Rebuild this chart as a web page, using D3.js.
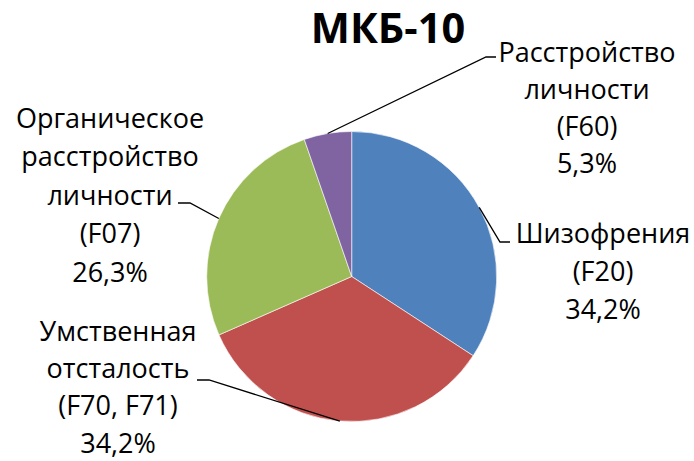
<!DOCTYPE html>
<html><head><meta charset="utf-8">
<script src="https://cdn.jsdelivr.net/npm/d3@7"></script>
<style>body{margin:0;background:#fff}svg{display:block}text{font-family:"Open Sans","Noto Sans",sans-serif;fill:#000}</style>
</head><body><svg id="c" width="694" height="461"></svg>
<script>
const title = "МКБ-10";
const categories = [
  ["Шизофрения", "(F20)"],
  ["Умственная", "отсталость", "(F70, F71)"],
  ["Органическое", "расстройство", "личности", "(F07)"],
  ["Расстройство", "личности", "(F60)"]
];
const values = [34.2, 34.2, 26.3, 5.3];
const valueLabels = ["34,2%", "34,2%", "26,3%", "5,3%"];
const colors = ["#4F81BD", "#C0504D", "#9BBB59", "#8064A2"];

// layout (not data)
const cx = 351.7, cy = 276.5, R = 145;
const labelLayout = [
  {x: 603, y0: 243, dy: 38, elbow: [500, 242], end: [510, 242]},
  {x: 118, y0: 341, dy: 37.2, elbow: [209, 380], end: [197, 380]},
  {x: 110, y0: 127.5, dy: 38.6, elbow: [190, 203], end: [178, 203]},
  {x: 587, y0: 62, dy: 37, elbow: [486, 57], end: [496, 57]}
];

const svg = d3.select("#c");
svg.append("text").attr("x", 388).attr("y", 43).attr("text-anchor", "middle")
  .style("font-weight", "bold").style("font-size", "41.5px").text(title);

const pie = d3.pie().sort(null).value(d => d)(values);
const arc = d3.arc().innerRadius(0).outerRadius(R);
const g = svg.append("g").attr("transform", `translate(${cx},${cy})`);
g.selectAll("path").data(pie).join("path")
  .attr("d", arc).attr("fill", (d, i) => colors[i])
  .attr("stroke", "#fff").attr("stroke-width", 0.6);

pie.forEach((d, i) => {
  const a = (d.startAngle + d.endAngle) / 2;
  const px = cx + R * Math.sin(a), py = cy - R * Math.cos(a);
  const L = labelLayout[i];
  svg.append("polyline")
    .attr("points", [[px, py], L.elbow, L.end].map(p => p.join(",")).join(" "))
    .attr("fill", "none").attr("stroke", "#000").attr("stroke-width", 1.3);
  const lines = categories[i].concat([valueLabels[i]]);
  const t = svg.append("text").attr("text-anchor", "middle").style("font-size", "27px");
  lines.forEach((s, k) => t.append("tspan").attr("x", L.x).attr("y", L.y0 + k * L.dy).text(s));
});
</script></body></html>
